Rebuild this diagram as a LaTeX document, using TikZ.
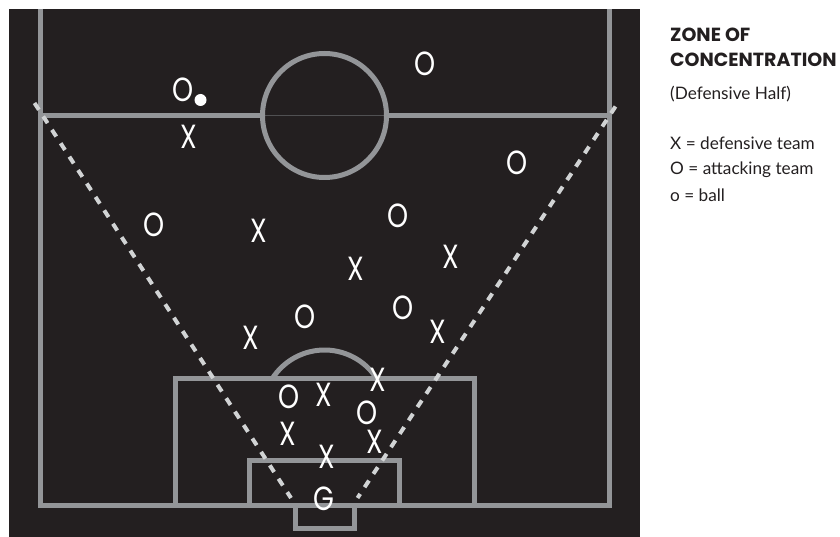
\documentclass[tikz,border=0pt]{standalone}
\usepackage{fontspec}
\setmainfont{Lato}
\newfontfamily\plfont[FakeStretch=0.8]{Poppins}
\newfontfamily\ttlfont{Poppins}
\definecolor{pitch}{HTML}{231F20}
\definecolor{lineg}{HTML}{939598}
\definecolor{dashg}{HTML}{D1D3D4}
\definecolor{midl}{HTML}{505052}
\begin{document}
\begin{tikzpicture}[x=1pt,y=-1pt,
  fieldline/.style={draw=lineg, line width=5pt},
  zoneline/.style={draw=dashg, line width=4pt, dash pattern=on 8pt off 8pt},
  pl/.style={text=white, font=\plfont\fontsize{33.5}{33.5}\selectfont, inner sep=0pt},
  lg/.style={anchor=base west, inner sep=0pt, text=pitch, font=\fontsize{17.2}{17.2}\selectfont},
  ttl/.style={anchor=base west, inner sep=0pt, text=pitch, font=\ttlfont\bfseries\fontsize{19}{19}\selectfont},
  ballstyle/.style={circle, fill=white, minimum size=12pt, inner sep=0pt}]
\useasboundingbox (0,0) rectangle (840,537);
\fill[pitch] (8.5,9) rectangle (640,537);
% field
\coordinate (tl) at (40,9);
\coordinate (bl) at (40,505.5);
\coordinate (br) at (609,505.5);
\coordinate (tr) at (609,9);
\draw[fieldline] (tl) -- (bl) -- (br) -- (tr);
\coordinate (hl) at (40,115.5);
\coordinate (hr) at (609,115.5);
\coordinate (cc) at (324.5,115.5);
\draw[fieldline] (hl) -- (262.5,115.5);
\draw[fieldline] (386.5,115.5) -- (hr);
\draw[draw=midl, line width=0.8pt] (262.5,115.5) -- (386.5,115.5);
\draw[fieldline] (cc) circle[radius=62];
% penalty box
\draw[fieldline] (175,505.5) -- (175,378.5) -- (474.5,378.5) -- (474.5,505.5);
\draw[fieldline] (249.5,505.5) -- (249.5,460.5) -- (399.5,460.5) -- (399.5,505.5);
\draw[fieldline] (295.5,505.5) -- (295.5,528) -- (354,528) -- (354,505.5);
\draw[fieldline] (376.7,378.5) arc[start angle=-32.7, end angle=-147.3, radius=62];
% zone of concentration
\coordinate (zl1) at (34.5,103);
\coordinate (zl2) at (291,498);
\coordinate (zr1) at (615.5,106.5);
\coordinate (zr2) at (357.5,498);
\draw[zoneline] (zl1) -- (zl2);
\draw[zoneline] (zr1) -- (zr2);
% attacking team
\node[pl] (o1) at (183,90) {O};
\node[pl] (o2) at (425,64) {O};
\node[pl] (o3) at (517,163) {O};
\node[pl] (o4) at (154,225) {O};
\node[pl] (o5) at (398,216) {O};
\node[pl] (o6) at (305,317) {O};
\node[pl] (o7) at (403,308) {O};
\node[pl] (o8) at (289,397) {O};
\node[pl] (o9) at (367,413) {O};
\node[ballstyle] (ball) at (200.5,100) {};
% defensive team
\node[pl] (x1) at (189,137) {X};
\node[pl] (x2) at (259,231) {X};
\node[pl] (x3) at (451,257) {X};
\node[pl] (x4) at (356,269) {X};
\node[pl] (x5) at (251,338) {X};
\node[pl] (x6) at (438,332) {X};
\node[pl] (x7) at (324,395) {X};
\node[pl] (x8) at (378,380) {X};
\node[pl] (x9) at (288,434) {X};
\node[pl] (x10) at (375,442) {X};
\node[pl] (x11) at (327,457) {X};
\node[pl] (gk) at (324,499) {G};
% legend
\node[ttl] (t1) at (670,41.7) {ZONE OF};
\node[ttl] (t2) at (670,66.7) {CONCENTRATION};
\node[lg] (t3) at (670,100) {(Defensive Half)};
\node[lg] (l1) at (670,150) {X = defensive team};
\node[lg] (l2) at (670,175) {O = attacking team};
\node[lg] (l3) at (670,201.7) {o = ball};
\end{tikzpicture}
\end{document}
